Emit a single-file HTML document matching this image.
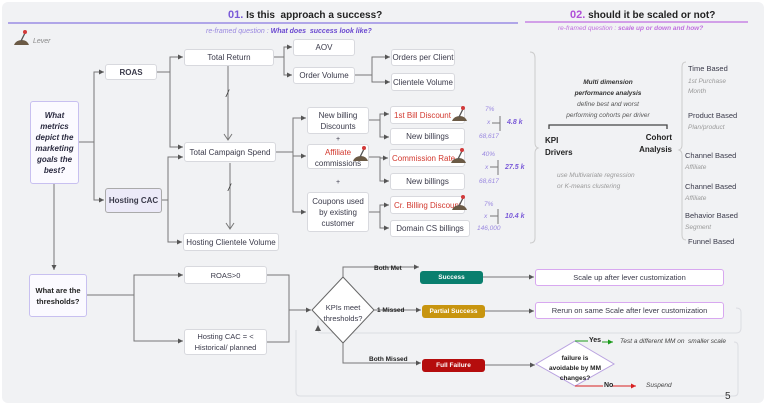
<!DOCTYPE html>
<html><head><meta charset="utf-8">
<style>
*{margin:0;padding:0;box-sizing:border-box}
body{width:768px;height:405px;background:#fff;font-family:"Liberation Sans",sans-serif;position:relative;overflow:hidden;color:#3a3a4a}
#bg{position:absolute;left:2px;top:2px;width:762px;height:401px;background:#f1f2f4;border-radius:6px}
.b{position:absolute;background:#fff;border:1px solid #d8d9de;border-radius:3px;font-size:8px;display:flex;align-items:center;justify-content:center;text-align:center;line-height:11px;color:#3a3a4a}
.t{position:absolute;font-size:7px;white-space:nowrap}
.i{font-style:italic}
.p{color:#7a5ad8}
.red{color:#d2382e}
svg{position:absolute;left:0;top:0}
</style></head><body>
<div id="bg"></div>
<div class="b" style="left:30px;top:101px;width:49px;height:83px;background:#fbfaff;border-color:#c8c0f0;font-weight:bold;font-style:italic;font-size:8px;color:#2a2a40">What metrics depict the marketing goals the best?</div>
<div class="b" style="left:105px;top:64px;width:52px;height:16px;font-weight:bold">ROAS</div>
<div class="b" style="left:105px;top:188px;width:57px;height:25px;background:#eceaf8;border-color:#aaa;font-weight:bold">Hosting CAC</div>
<div class="b" style="left:184px;top:49px;width:90px;height:17px">Total Return</div>
<div class="b" style="left:184px;top:142px;width:92px;height:20px">Total Campaign Spend</div>
<div class="b" style="left:183px;top:233px;width:96px;height:18px">Hosting Clientele Volume</div>
<div class="b" style="left:293px;top:39px;width:62px;height:17px">AOV</div>
<div class="b" style="left:293px;top:67px;width:62px;height:17px">Order Volume</div>
<div class="b" style="left:391px;top:49px;width:64px;height:17px">Orders per Client</div>
<div class="b" style="left:391px;top:73px;width:64px;height:18px">Clientele Volume</div>
<div class="b" style="left:307px;top:107px;width:62px;height:27px">New billing Discounts</div>
<div class="b" style="left:307px;top:144px;width:62px;height:25px;display:block;padding-top:2px"><span class="red">Affiliate</span><br>commissions</div>
<div class="b" style="left:307px;top:192px;width:62px;height:40px">Coupons used by existing customer</div>
<div class="t" style="left:336px;top:136px;font-size:7px">+</div>
<div class="t" style="left:336px;top:179px;font-size:7px">+</div>
<div class="b red" style="left:390px;top:106px;width:75px;height:18px;justify-content:flex-start;padding-left:3px">1st Bill Discount</div>
<div class="b" style="left:390px;top:128px;width:75px;height:17px">New billings</div>
<div class="b red" style="left:389px;top:149px;width:76px;height:18px;justify-content:flex-start;padding-left:2px">Commission Rate</div>
<div class="b" style="left:390px;top:173px;width:75px;height:17px">New billings</div>
<div class="b red" style="left:390px;top:196px;width:75px;height:18px;justify-content:flex-start;padding-left:3px">Cr. Billing Discount</div>
<div class="b" style="left:390px;top:220px;width:80px;height:17px">Domain CS billings</div>
<div class="b" style="left:29px;top:274px;width:58px;height:43px;background:#fbfaff;border-color:#c8c0f0;font-weight:bold;font-size:7.5px;color:#222">What are the thresholds?</div>
<div class="b" style="left:184px;top:266px;width:83px;height:18px;font-size:7.5px">ROAS&gt;0</div>
<div class="b" style="left:184px;top:329px;width:83px;height:26px;font-size:7.5px">Hosting CAC = &lt; Historical/ planned</div>
<div class="b" style="left:420px;top:271px;width:63px;height:13px;background:#0a7f6e;border:none;color:#fff;font-weight:bold;font-size:6.5px">Success</div>
<div class="b" style="left:422px;top:305px;width:63px;height:13px;background:#c8950f;border:none;color:#fff;font-weight:bold;font-size:6.5px">Partial Success</div>
<div class="b" style="left:422px;top:359px;width:63px;height:13px;background:#b50d0d;border:none;color:#fff;font-weight:bold;font-size:6.5px">Full Failure</div>
<div class="b" style="left:535px;top:269px;width:189px;height:17px;border-color:#d8a8f0;font-size:7.5px">Scale up after lever customization</div>
<div class="b" style="left:535px;top:302px;width:189px;height:17px;border-color:#d8a8f0;font-size:7.5px">Rerun on same Scale after lever customization</div>

<svg width="768" height="405" viewBox="0 0 768 405">
<defs>
<marker id="a" markerWidth="6" markerHeight="6" refX="5" refY="3" orient="auto"><path d="M0,0.5 L5,3 L0,5.5z" fill="#555"/></marker>
<marker id="ag" markerWidth="6" markerHeight="6" refX="5" refY="3" orient="auto"><path d="M0,0.5 L5,3 L0,5.5z" fill="#1a9a1a"/></marker>
<marker id="ar" markerWidth="6" markerHeight="6" refX="5" refY="3" orient="auto"><path d="M0,0.5 L5,3 L0,5.5z" fill="#d82020"/></marker>
<g id="lev">
<path d="M14,45 Q16,40 22,40 Q27,40 29,45z" fill="#6b5a45"/>
<line x1="21" y1="41" x2="25" y2="33" stroke="#555" stroke-width="1.3"/>
<circle cx="25" cy="32" r="2" fill="#d23a3a"/>
</g>
</defs>
<line x1="8" y1="23" x2="518" y2="23" stroke="#8a7ae0" stroke-width="1.2"/>
<line x1="525" y1="22" x2="748" y2="22" stroke="#c070e0" stroke-width="1.2"/>
<g fill="none" stroke="#777" stroke-width="1">
<path d="M79,142 H94 V72 H104" marker-end="url(#a)"/>
<path d="M94,142 V200 H104" marker-end="url(#a)"/>
<path d="M54,184 V270" marker-end="url(#a)"/>
<path d="M157,72 H170 V57 H183" marker-end="url(#a)"/>
<path d="M170,72 V147 H183" marker-end="url(#a)"/>
<path d="M162,200 H168 V157 H183" marker-end="url(#a)"/>
<path d="M168,200 V242 H182" marker-end="url(#a)"/>
<path d="M274,57 H284 V47 H292" marker-end="url(#a)"/>
<path d="M284,57 V75 H292" marker-end="url(#a)"/>
<path d="M355,75 H372 V57 H390" marker-end="url(#a)"/>
<path d="M372,75 V82 H390" marker-end="url(#a)"/>
<path d="M228,66 V140"/>
<path d="M224,134 L228,140 L232,134"/>
<path d="M230,163 V229"/>
<path d="M226,223 L230,229 L234,223"/>
<path d="M276,152 H293 V118 H306" marker-end="url(#a)"/>
<path d="M293,152 V156 H306" marker-end="url(#a)"/>
<path d="M293,152 V212 H306" marker-end="url(#a)"/>
<path d="M369,120 H380 V114 H389" marker-end="url(#a)"/>
<path d="M380,120 V137 H389" marker-end="url(#a)"/>
<path d="M369,157 H380 V158 H388" marker-end="url(#a)"/>
<path d="M380,157 V181 H389" marker-end="url(#a)"/>
<path d="M369,212 H380 V205 H389" marker-end="url(#a)"/>
<path d="M380,212 V228 H389" marker-end="url(#a)"/>
<path d="M492,123 H500 M500,116 V131"/>
<path d="M490,167 H498 M498,160 V175"/>
<path d="M490,216 H498 M498,209 V224"/>
<path d="M530,52 Q535,52 535,58 V143 Q535,147 538,148 Q535,149 535,153 V238 Q535,243 530,243" stroke="#ccc"/>
<path d="M686,62 Q682,62 682,67 V145 Q682,149 679,150 Q682,151 682,155 V235 Q682,240 686,240" stroke="#ccc"/>
<path d="M549,129 V125 H667 V129" stroke="#444" stroke-width="1.3"/>
<path d="M87,295 H134 V275 H183" marker-end="url(#a)"/>
<path d="M134,295 V341 H183" marker-end="url(#a)"/>
<path d="M267,275 H289 V342 H267"/>
<path d="M289,310 H311" marker-end="url(#a)"/>
<path d="M343,278 V267 H419" marker-end="url(#a)"/>
<path d="M374,310 H421" marker-end="url(#a)"/>
<path d="M343,343 V363 H421" marker-end="url(#a)"/>
<path d="M483,277 H534" marker-end="url(#a)"/>
<path d="M485,311 H534" marker-end="url(#a)"/>
<path d="M485,365 H535" marker-end="url(#a)"/>
</g>
<g fill="none" stroke="#dcdde2" stroke-width="1">
<path d="M318,320 V330 Q318,333 321,333 H736 Q741,333 741,328 V312 Q741,308 736,308"/>
<path d="M296,330 V392 Q296,396 300,396 H734 Q738,396 738,392 V346 Q738,342 734,342"/>
</g>
<path d="M318,325 l-3,6 h6z" fill="#555"/>
<polygon points="343,277 374,310 343,343 312,310" fill="#fff" stroke="#666" stroke-width="1"/>
<polygon points="575,341 614,364 575,386 536,364" fill="#fff" stroke="#b9a2e0" stroke-width="1"/>
<path d="M575,341 H588" stroke="#1a9a1a"/><path d="M602,342 H613" stroke="#1a9a1a" marker-end="url(#ag)"/>
<path d="M575,386 H603" stroke="#d82020"/><path d="M612,386 H636" stroke="#d82020" marker-end="url(#ar)"/>
<use href="#lev"/>
<use href="#lev" x="438" y="76"/>
<use href="#lev" x="339" y="116"/>
<use href="#lev" x="437" y="118"/>
<use href="#lev" x="438" y="165"/>
<text x="226" y="97" font-size="10" fill="#333" font-style="italic" font-family="Liberation Sans">/</text>
<text x="228" y="191" font-size="10" fill="#333" font-style="italic" font-family="Liberation Sans">/</text>
</svg>

<div class="t" style="left:228px;top:9px;font-size:10px;font-weight:bold;color:#222"><span style="color:#7a5ad8;font-size:11px">01.</span> Is this&nbsp; approach a success?</div>
<div class="t" style="left:570px;top:9px;font-size:10px;font-weight:bold;color:#222"><span style="color:#b050d8;font-size:11px">02.</span> should it be scaled or not?</div>
<div class="t i" style="left:206px;top:28px;font-size:7px;color:#9a88e0">re-framed question : <b style="color:#6a48d0">What does&nbsp; success look like?</b></div>
<div class="t i" style="left:558px;top:25px;font-size:6.5px;color:#c070e0">re-framed question : <b>scale up or down and how?</b></div>
<div class="t i" style="left:33px;top:38px;color:#888">Lever</div>

<div class="t i p" style="left:485px;top:106px;font-size:6.5px;color:#9a88e0">7%</div>
<div class="t i p" style="left:487px;top:119px;font-size:6.5px;color:#9a88e0">x</div>
<div class="t i p" style="left:507px;top:119px;font-weight:bold">4.8 k</div>
<div class="t i p" style="left:479px;top:133px;font-size:6.5px;color:#9a88e0">68,617</div>
<div class="t i p" style="left:482px;top:151px;font-size:6.5px;color:#9a88e0">40%</div>
<div class="t i p" style="left:485px;top:164px;font-size:6.5px;color:#9a88e0">x</div>
<div class="t i p" style="left:505px;top:164px;font-weight:bold">27.5 k</div>
<div class="t i p" style="left:479px;top:178px;font-size:6.5px;color:#9a88e0">68,617</div>
<div class="t i p" style="left:484px;top:201px;font-size:6.5px;color:#9a88e0">7%</div>
<div class="t i p" style="left:484px;top:213px;font-size:6.5px;color:#9a88e0">x</div>
<div class="t i p" style="left:505px;top:213px;font-weight:bold">10.4 k</div>
<div class="t i p" style="left:477px;top:225px;font-size:6.5px;color:#9a88e0">146,000</div>

<div class="t i" style="left:548px;top:77px;width:120px;text-align:center;font-size:6.5px;line-height:11px;color:#333"><b>Multi dimension<br>performance analysis</b><br><span style="color:#555">define best and worst<br>performing cohorts per driver</span></div>
<div class="t" style="left:545px;top:135px;font-size:8px;font-weight:bold;line-height:12px;color:#222">KPI<br>Drivers</div>
<div class="t" style="left:632px;top:132px;font-size:8px;font-weight:bold;line-height:12px;color:#222;text-align:right;width:40px">Cohort<br>Analysis</div>
<div class="t i" style="left:557px;top:170px;font-size:6.5px;line-height:11px;color:#999">use Multivariate regression<br>or K-means clustering</div>

<div class="t" style="left:688px;top:64px;font-size:7.5px">Time Based</div>
<div class="t i" style="left:688px;top:77px;font-size:6.5px;line-height:10px;color:#999">1st Purchase<br>Month</div>
<div class="t" style="left:688px;top:111px;font-size:7.5px">Product Based</div>
<div class="t i" style="left:688px;top:124px;font-size:6.5px;color:#999">Plan/product</div>
<div class="t" style="left:685px;top:151px;font-size:7.5px">Channel Based</div>
<div class="t i" style="left:685px;top:164px;font-size:6.5px;color:#999">Affiliate</div>
<div class="t" style="left:685px;top:182px;font-size:7.5px">Channel Based</div>
<div class="t i" style="left:685px;top:195px;font-size:6.5px;color:#999">Affiliate</div>
<div class="t" style="left:685px;top:211px;font-size:7.5px">Behavior Based</div>
<div class="t i" style="left:685px;top:224px;font-size:6.5px;color:#999">Segment</div>
<div class="t" style="left:688px;top:237px;font-size:7.5px">Funnel Based</div>

<div class="t" style="left:313px;top:302px;width:60px;text-align:center;font-size:7.5px;line-height:11px">KPIs meet<br>thresholds?</div>
<div class="t" style="left:536px;top:354px;width:78px;text-align:center;font-size:6.5px;font-weight:bold;line-height:10px;color:#222">failure is<br>avoidable by MM<br>changes?</div>
<div class="t" style="left:374px;top:265px;font-size:6.5px;font-weight:bold;color:#222">Both Met</div>
<div class="t" style="left:377px;top:307px;font-size:6.5px;font-weight:bold;color:#222">1 Missed</div>
<div class="t" style="left:369px;top:356px;font-size:6.5px;font-weight:bold;color:#222">Both Missed</div>
<div class="t" style="left:589px;top:337px;font-size:7px;font-weight:bold;color:#222">Yes</div>
<div class="t i" style="left:620px;top:338px;font-size:6.5px;color:#444">Test a different MM on&nbsp; smaller scale</div>
<div class="t" style="left:604px;top:382px;font-size:7px;font-weight:bold;color:#222">No</div>
<div class="t i" style="left:646px;top:382px;font-size:6.5px;color:#444">Suspend</div>
<div class="t" style="left:725px;top:391px;font-size:10px;color:#333">5</div>
</body></html>
